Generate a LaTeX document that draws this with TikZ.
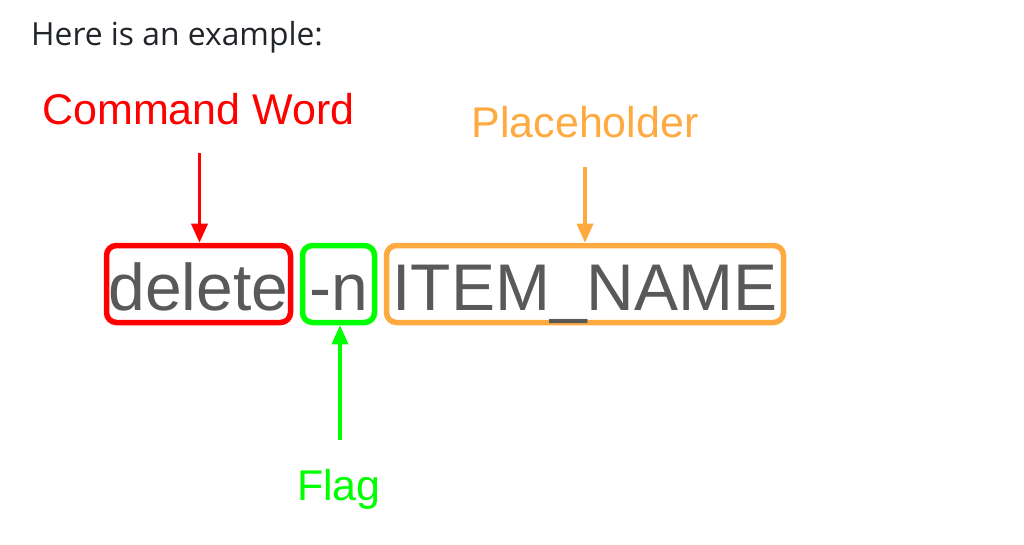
\documentclass[tikz,border=0pt]{standalone}
\usepackage{fontspec}
\setmainfont{Liberation Sans}
\newfontfamily\uifont{Open Sans}
\usetikzlibrary{arrows.meta}
\definecolor{cmdred}{RGB}{255,0,0}
\definecolor{flaggreen}{RGB}{0,255,0}
\definecolor{phorange}{RGB}{255,170,64}
\definecolor{wordgrey}{RGB}{89,89,89}
\definecolor{bodytext}{RGB}{33,37,41}
\tikzset{
  partbox/.style={draw, line width=5.5pt, rounded corners=10pt, inner sep=0pt,
    minimum height=77pt, text height=52pt, text depth=0pt,
    text=wordgrey, font=\fontsize{66}{66}\selectfont},
  label/.style={inner sep=0pt, anchor=base, font=\fontsize{43}{43}\selectfont},
  pointer/.style={line width=3.6pt, -{Triangle[length=19pt,width=16pt]}},
}
\begin{document}
\begin{tikzpicture}[x=1pt,y=-1pt]
\useasboundingbox (0,0) rectangle (1024,545);
\fill[white] (0,0) rectangle (1024,545);
\node[inner sep=0pt, anchor=base west, text=bodytext, font=\uifont\fontsize{31.8}{31.8}\selectfont] (intro) at (31,46) {Here is an example:};
\node[label, text=cmdred] (cmdlabel) at (198.5,125) {Command Word};
\node[label, text=phorange] (phlabel) at (585,138) {Placeholder};
\node[label, text=flaggreen] (flaglabel) at (339,500) {Flag};
\node[partbox, draw=cmdred, minimum width=184pt] (cmd) at (198.5,284) {delete};
\node[partbox, draw=flaggreen, minimum width=72pt] (flag) at (338.5,284) {-n};
\node[partbox, draw=phorange, minimum width=397pt] (ph) at (585,284) {ITEM\_NAME};
\coordinate (cmdtail) at (199.5,153);
\coordinate (phtail) at (585,167);
\coordinate (flagtail) at (340,440);
\draw[pointer, cmdred] (cmdtail) -- (cmdtail |- cmd.north);
\draw[pointer, phorange] (phtail) -- (phtail |- ph.north);
\draw[pointer, flaggreen] (flagtail) -- (flagtail |- flag.south);
\end{tikzpicture}
\end{document}
